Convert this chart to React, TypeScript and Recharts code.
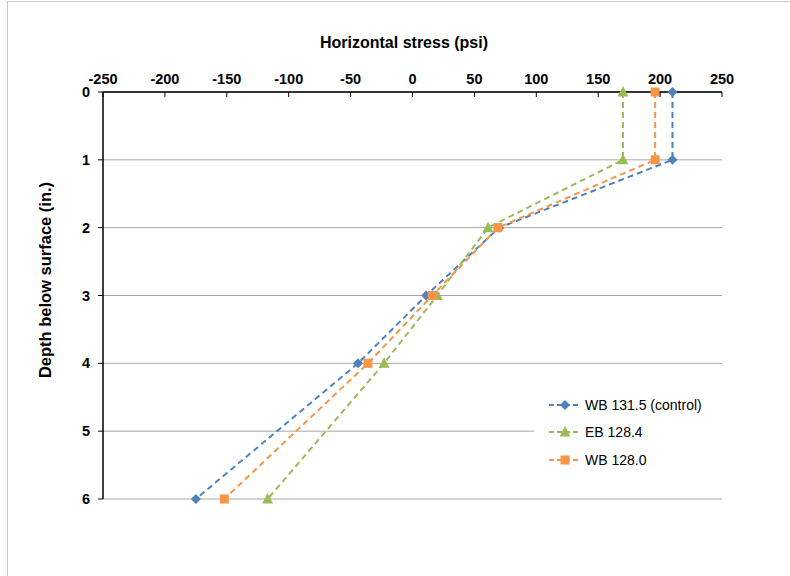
import { LineChart, Line, XAxis, YAxis, CartesianGrid, Label } from "recharts";

const depths = [0, 1, 2, 3, 4, 6];
const wb1315 = [210, 210, 70, 11, -44, -175];
const eb1284 = [170, 170, 61, 20, -23, -117];
const wb1280 = [196, 196, 69, 16, -36, -152];
const xTicks = [-250, -200, -150, -100, -50, 0, 50, 100, 150, 200, 250];
const yTicks = [0, 1, 2, 3, 4, 5, 6];

const series = [
  { key: "wb1315", name: "WB 131.5 (control)", color: "#4F81BD", shape: "diamond" },
  { key: "eb1284", name: "EB 128.4", color: "#9BBB59", shape: "triangle" },
  { key: "wb1280", name: "WB 128.0", color: "#F79646", shape: "square" },
];

const data = depths.map((d, i) => ({
  depth: d,
  wb1315: wb1315[i],
  eb1284: eb1284[i],
  wb1280: wb1280[i],
}));

const font = "'Liberation Sans', Arial, sans-serif";

function Marker({ cx, cy, shape, color }: any) {
  if (cx == null || cy == null) return null;
  if (shape === "diamond") {
    return <path d={`M${cx},${cy - 5} L${cx + 5},${cy} L${cx},${cy + 5} L${cx - 5},${cy} Z`} fill={color} />;
  }
  if (shape === "triangle") {
    return <path d={`M${cx},${cy - 6} L${cx + 5.5},${cy + 4.5} L${cx - 5.5},${cy + 4.5} Z`} fill={color} />;
  }
  return <rect x={cx - 4.5} y={cy - 4.5} width={9} height={9} fill={color} />;
}

function TopTick({ x, y, payload }: any) {
  return (
    <g>
      <line x1={x} y1={y + 8} x2={x} y2={y + 13} stroke="#000" strokeWidth={1} />
      <text x={x} y={y} textAnchor="middle" fontFamily={font} fontWeight="bold" fontSize={14.5} fill="#000">
        {payload.value}
      </text>
    </g>
  );
}

function LegendBox() {
  return (
    <div
      style={{
        position: "absolute",
        left: 534,
        top: 390,
        background: "#fff",
        width: 188,
        height: 84,
        paddingLeft: 14,
        paddingTop: 1,
        boxSizing: "border-box",
      }}
    >
      {series.map((s) => (
        <div key={s.key} style={{ display: "flex", alignItems: "center", height: 27.5 }}>
          <svg width={34} height={12}>
            <line x1={1} y1={6} x2={33} y2={6} stroke={s.color} strokeWidth={2} strokeDasharray="5 3" />
            <Marker cx={17} cy={6} shape={s.shape} color={s.color} />
          </svg>
          <span style={{ fontFamily: font, fontSize: 14, color: "#000", marginLeft: 3 }}>{s.name}</span>
        </div>
      ))}
    </div>
  );
}

export default function App() {
  return (
    <div style={{ position: "absolute", left: 0, top: 0, width: 790, height: 576, background: "#fff" }}>
      <div style={{ position: "absolute", left: 7, top: 1, width: 800, height: 600, border: "1px solid #c8c8c8" }} />
      <div style={{ position: "absolute", left: 0, top: 0 }}>
        <LineChart
          width={790}
          height={576}
          data={data}
          layout="vertical"
          margin={{ top: 62, right: 68, left: 63, bottom: 77 }}
        >
          <CartesianGrid horizontal={true} vertical={false} stroke="#a6a6a6" strokeWidth={1} />
          <XAxis
            type="number"
            orientation="top"
            domain={[-250, 250]}
            ticks={xTicks}
            height={30}
            tickSize={0}
            tickMargin={8}
            tickLine={false}
            tick={<TopTick />}
            axisLine={{ stroke: "#000", strokeWidth: 1.5 }}
            interval={0}
          >
            <Label
              content={() => (
                <text x={404} y={48} textAnchor="middle" fontFamily={font} fontWeight="bold" fontSize={16} fill="#000">
                  Horizontal stress (psi)
                </text>
              )}
            />
          </XAxis>
          <YAxis
            type="number"
            dataKey="depth"
            domain={[0, 6]}
            ticks={yTicks}
            width={40}
            tickSize={5}
            tickMargin={8}
            tickLine={{ stroke: "#000" }}
            axisLine={{ stroke: "#000", strokeWidth: 1.5 }}
            tick={{ fontFamily: font, fontWeight: "bold", fontSize: 14.5, fill: "#000" }}
            interval={0}
          >
            <Label
              content={() => (
                <text
                  x={51}
                  y={280}
                  textAnchor="middle"
                  transform="rotate(-90 51 280)"
                  fontFamily={font}
                  fontWeight="bold"
                  fontSize={16.5}
                  fill="#000"
                >
                  Depth below surface (in.)
                </text>
              )}
            />
          </YAxis>
          {series.map((s) => (
            <Line
              key={s.key}
              dataKey={s.key}
              name={s.name}
              type="linear"
              stroke={s.color}
              strokeWidth={2}
              strokeDasharray="6 4"
              isAnimationActive={false}
              dot={(p: any) => <Marker key={`${s.key}-${p.index}`} cx={p.cx} cy={p.cy} shape={s.shape} color={s.color} />}
              activeDot={false}
            />
          ))}
        </LineChart>
      </div>
      <LegendBox />
    </div>
  );
}
